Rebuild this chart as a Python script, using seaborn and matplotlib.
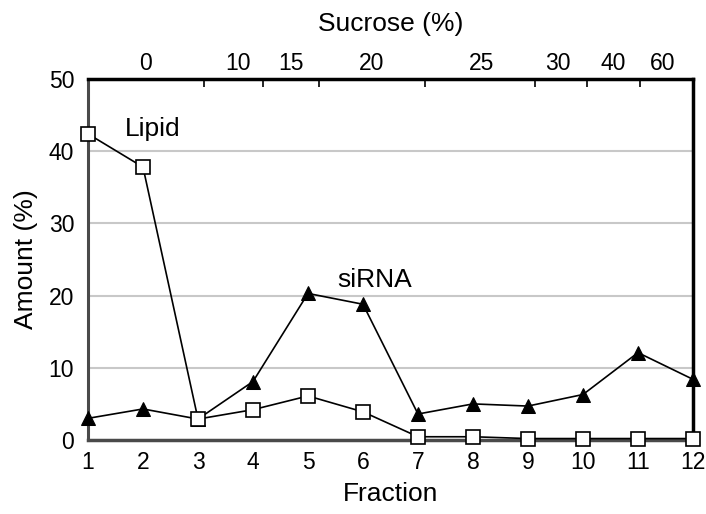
import matplotlib
matplotlib.use("Agg")
import matplotlib.pyplot as plt
import seaborn as sns
import pandas as pd

fractions = [1, 2, 3, 4, 5, 6, 7, 8, 9, 10, 11, 12]
lipid = [42.4, 37.8, 2.9, 4.2, 6.1, 3.9, 0.45, 0.45, 0.2, 0.2, 0.2, 0.2]
sirna = [3.0, 4.3, 2.9, 8.1, 20.3, 18.8, 3.6, 5.0, 4.7, 6.3, 12.1, 8.4]

sucrose_labels = ["0", "10", "15", "20", "25", "30", "40", "60"]
sucrose_label_pos = [2.04, 3.73, 4.69, 6.16, 8.16, 9.55, 10.55, 11.45]
sucrose_tick_pos = [3.10, 4.18, 5.20, 7.13, 9.13, 10.07, 11.04]

sns.set_theme(style="white")
plt.rcParams["font.family"] = ["Liberation Sans", "DejaVu Sans"]
plt.rcParams["text.color"] = "black"
plt.rcParams["axes.labelcolor"] = "black"
plt.rcParams["xtick.labelcolor"] = "black"
plt.rcParams["ytick.labelcolor"] = "black"

df = pd.DataFrame({"Fraction": fractions, "Lipid": lipid, "siRNA": sirna})

fig = plt.figure(figsize=(7.06, 5.14), dpi=100)
ax = fig.add_axes([88 / 706, 1 - 440 / 514, (693 - 88) / 706, (440 - 79) / 514])

for yv in [10, 20, 30, 40]:
    ax.axhline(yv, color="#c8c8c8", lw=1.5, zorder=0)

sns.lineplot(data=df, x="Fraction", y="siRNA", ax=ax, color="black", lw=1.2,
             marker="^", markersize=10, markerfacecolor="black",
             markeredgecolor="black", clip_on=False, zorder=3)
sns.lineplot(data=df, x="Fraction", y="Lipid", ax=ax, color="black", lw=1.2,
             marker="s", markersize=10.5, markerfacecolor="white",
             markeredgecolor="black", markeredgewidth=1.2, clip_on=False, zorder=4)

ax.set_xlim(1, 12)
ax.set_ylim(0, 50)
ax.set_xticks(fractions)
ax.set_xticklabels([str(f) for f in fractions])
ax.set_yticks([0, 10, 20, 30, 40, 50])
ax.tick_params(axis="x", direction="in", length=5, width=1, color="#999999",
               labelcolor="black", labelsize=16.5, pad=8, top=False)
ax.tick_params(axis="y", length=0, labelsize=16.5, pad=10, labelcolor="black")
ax.set_xlabel("Fraction", fontsize=19, labelpad=6, color="black")
ax.set_ylabel("Amount (%)", fontsize=19, labelpad=8, color="black")
ax.grid(False)

ax.spines["left"].set_color("#4a4a4a")
ax.spines["left"].set_linewidth(2.2)
ax.spines["bottom"].set_color("#4a4a4a")
ax.spines["bottom"].set_linewidth(2.5)
ax.spines["top"].set_color("black")
ax.spines["top"].set_linewidth(2.5)
ax.spines["right"].set_color("black")
ax.spines["right"].set_linewidth(2.5)

sec = ax.secondary_xaxis("top")
sec.set_xticks(sucrose_tick_pos)
sec.set_xticklabels([""] * len(sucrose_tick_pos))
sec.set_xticks(sucrose_label_pos, minor=True)
sec.set_xticklabels(sucrose_labels, minor=True)
sec.tick_params(axis="x", which="major", direction="in", length=6, width=1.2,
                color="black")
sec.tick_params(axis="x", which="minor", length=0, labelsize=16.5, pad=3,
                labelcolor="black")
sec.set_xlabel("Sucrose (%)", fontsize=19, labelpad=15, color="black")
sec.spines["top"].set_visible(False)

ax.text(1.67, 43.1, "Lipid", fontsize=19, ha="left", va="center", color="black")
ax.text(5.53, 22.2, "siRNA", fontsize=19, ha="left", va="center", color="black")

fig.savefig("out.png", dpi=100)
